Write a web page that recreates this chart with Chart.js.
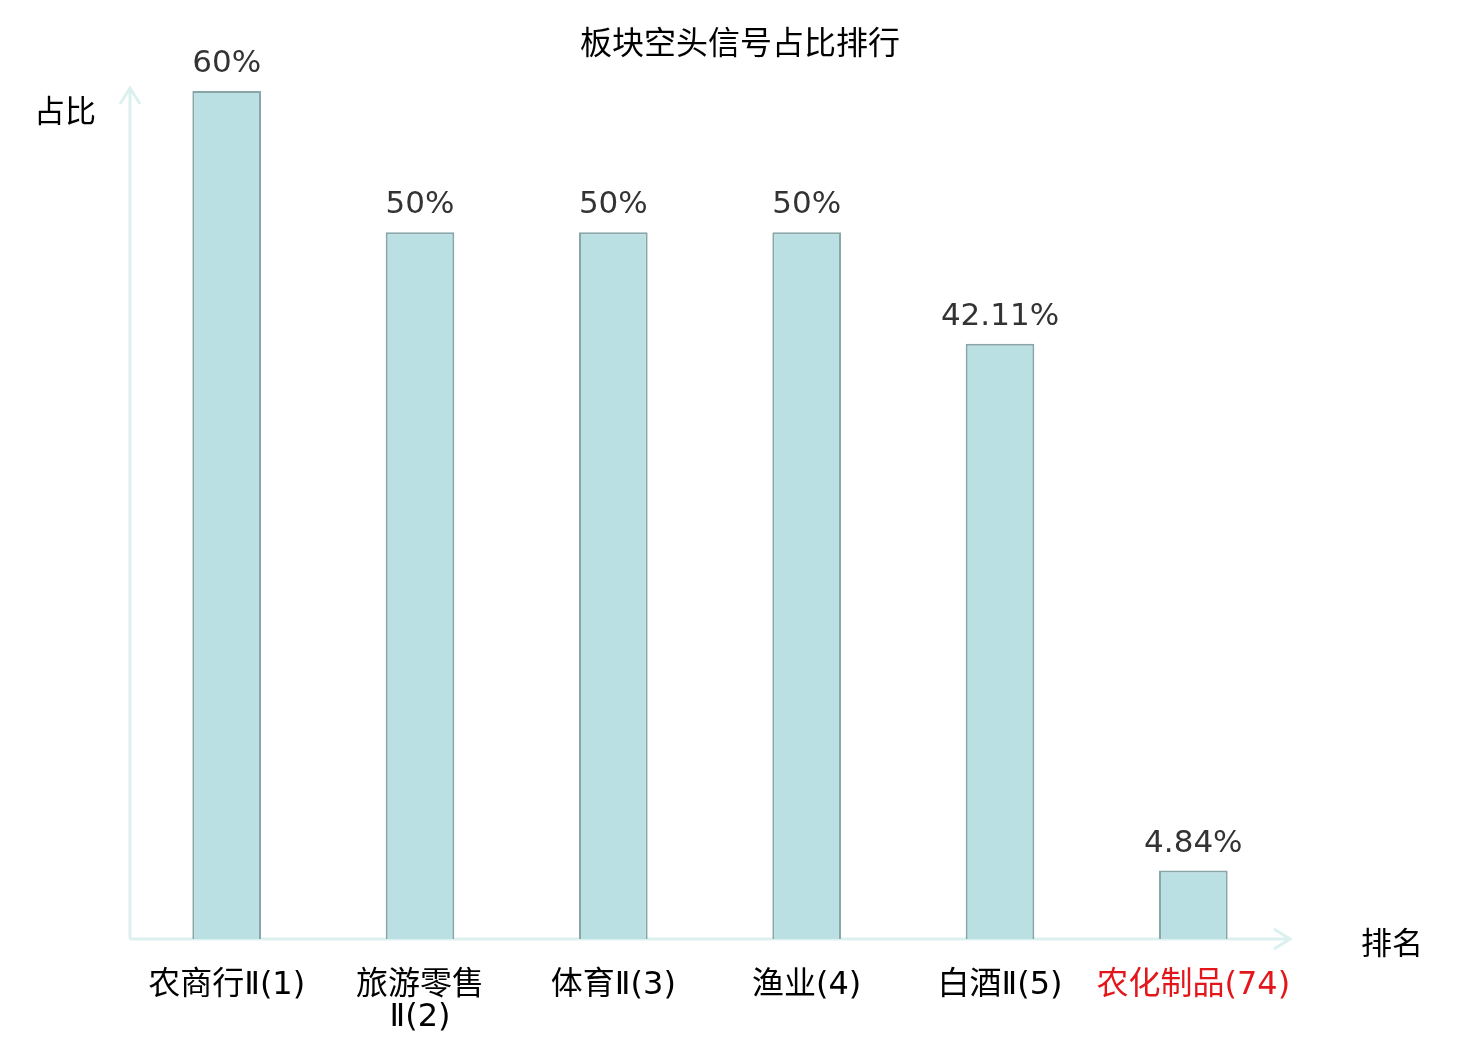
<!DOCTYPE html>
<html lang="zh">
<head>
    <meta charset="UTF-8">
    <title>板块空头信号占比排行</title>
    <script src="https://cdn.jsdelivr.net/npm/chart.js"></script>
    <style>
        html, body { margin: 0; padding: 0; background: #fff; }
        #wrap { width: 1480px; height: 1040px; }
    </style>
</head>
<body>
    <div id="wrap"><canvas id="sectorChart"></canvas></div>
    <script>
        // data
        const sectors = [['农商行Ⅱ(1)'], ['旅游零售', 'Ⅱ(2)'], ['体育Ⅱ(3)'], ['渔业(4)'], ['白酒Ⅱ(5)'], ['农化制品(74)']];
        const ratios = [60, 50, 50, 50, 42.11, 4.84];
        const ratioLabels = ['60%', '50%', '50%', '50%', '42.11%', '4.84%'];
        const labelColors = ['#000', '#000', '#000', '#000', '#000', '#e3171b'];

        const axisColor = '#dcf1ef';
        const cjk = '"Noto Sans CJK SC", "DejaVu Sans", sans-serif';
        const tickFont = '"DejaVu Sans", "Noto Sans CJK SC", sans-serif';

        // title, axes with arrow heads, axis names and value labels
        const decor = {
            id: 'decor',
            beforeDatasetsDraw(chart) {
                const { ctx, chartArea: a } = chart;
                ctx.save();
                ctx.strokeStyle = axisColor;
                ctx.lineWidth = 3;
                ctx.beginPath();
                ctx.moveTo(a.left, a.bottom);
                ctx.lineTo(a.left, a.top - 3);
                ctx.moveTo(a.left - 10, a.top + 13);
                ctx.lineTo(a.left, a.top - 3);
                ctx.lineTo(a.left + 10, a.top + 13);
                ctx.moveTo(a.left, a.bottom);
                ctx.lineTo(a.right, a.bottom);
                ctx.moveTo(a.right - 16, a.bottom - 10);
                ctx.lineTo(a.right, a.bottom);
                ctx.lineTo(a.right - 16, a.bottom + 10);
                ctx.stroke();
                ctx.restore();
            },
            afterDatasetsDraw(chart) {
                const { ctx } = chart;
                ctx.save();
                ctx.fillStyle = '#000';
                ctx.textAlign = 'center';
                ctx.textBaseline = 'middle';
                ctx.font = '32px ' + cjk;
                ctx.fillText('板块空头信号占比排行', 740, 42);

                ctx.font = '31px ' + cjk;
                ctx.textAlign = 'left';
                ctx.fillText('占比', 34, 110);
                ctx.fillText('排名', 1361, 942);

                ctx.font = '31px "DejaVu Sans", sans-serif';
                ctx.fillStyle = '#333';
                ctx.textAlign = 'center';
                ctx.textBaseline = 'alphabetic';
                chart.getDatasetMeta(0).data.forEach((bar, i) => {
                    ctx.fillText(ratioLabels[i], bar.x, bar.y - 19);
                });
                ctx.restore();
            }
        };

        new Chart(document.getElementById('sectorChart'), {
            type: 'bar',
            data: {
                labels: sectors,
                datasets: [{
                    data: ratios,
                    backgroundColor: '#bbe0e3',
                    borderColor: '#88a6a8',
                    borderWidth: 2,
                    barPercentage: 0.355,
                    categoryPercentage: 1
                }]
            },
            options: {
                responsive: true,
                maintainAspectRatio: false,
                animation: false,
                layout: { padding: { left: 130, right: 190, top: 91, bottom: 0 } },
                plugins: {
                    legend: { display: false },
                    tooltip: { enabled: false },
                    title: { display: false }
                },
                scales: {
                    x: {
                        grid: { display: false, drawTicks: false },
                        border: { display: false },
                        ticks: {
                            color: labelColors,
                            font: { size: 32, family: tickFont, lineHeight: 1.0 },
                            padding: 31,
                            maxRotation: 0,
                            autoSkip: false
                        },
                        afterFit(scale) { scale.height = 101; }
                    },
                    y: {
                        display: false,
                        min: 0,
                        max: 60
                    }
                }
            },
            plugins: [decor]
        });
    </script>
</body>
</html>
